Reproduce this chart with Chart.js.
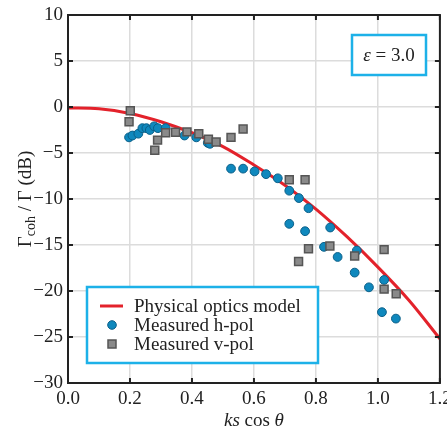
<!DOCTYPE html>
<html>
<head>
<meta charset="utf-8">
<script src="https://cdn.jsdelivr.net/npm/chart.js@4.4.0/dist/chart.umd.min.js"></script>
<style>
  html, body { margin: 0; padding: 0; background: #fff; }
  #wrap { width: 447px; height: 432px; }
</style>
</head>
<body>
<div id="wrap"><canvas id="chart" width="447" height="432"></canvas></div>
<script>
// --- data ---
const modelX = [0, 0.1, 0.2, 0.3, 0.4, 0.5, 0.6, 0.7, 0.8, 0.9, 1.0, 1.1, 1.2];
const modelY = [-0.1, -0.2, -0.7, -1.6, -2.8, -4.3, -6.3, -8.5, -11.1, -14.1, -17.4, -21.0, -25.2];

const hpolX = [0.197, 0.208, 0.227, 0.24, 0.253, 0.264, 0.278, 0.29, 0.315, 0.376, 0.414, 0.451, 0.458,
  0.526, 0.565, 0.602, 0.639, 0.677, 0.714, 0.745, 0.776, 0.714, 0.765, 0.846, 0.826, 0.87, 0.932,
  0.925, 0.971, 1.02, 1.013, 1.058];
const hpolY = [-3.3, -3.1, -2.9, -2.3, -2.3, -2.5, -2.1, -2.3, -2.3, -3.1, -3.3, -3.9, -4.0,
  -6.7, -6.7, -7.0, -7.3, -7.75, -9.1, -9.9, -11.0, -12.7, -13.5, -13.1, -15.2, -16.3, -15.6,
  -18.0, -19.6, -18.8, -22.3, -23.0];

const vpolX = [0.201, 0.197, 0.28, 0.289, 0.315, 0.347, 0.384, 0.422, 0.453, 0.478, 0.526, 0.565,
  0.714, 0.765, 0.776, 0.744, 0.845, 0.925, 1.02, 1.02, 1.059];
const vpolY = [-0.4, -1.6, -4.7, -3.6, -2.8, -2.75, -2.7, -2.9, -3.5, -3.8, -3.3, -2.4,
  -7.9, -7.9, -15.4, -16.8, -15.1, -16.2, -15.5, -19.8, -20.3];

const seriesNames = ['Physical optics model', 'Measured h-pol', 'Measured v-pol'];
const xTicks = [0, 0.2, 0.4, 0.6, 0.8, 1.0, 1.2];
const yTicks = [-30, -25, -20, -15, -10, -5, 0, 5, 10];

const RED = '#e3222b';
const BLUE = '#0f88bd';
const BLUE_EDGE = '#0b5f88';
const GREY = '#8a8a8a';
const GREY_EDGE = '#555555';
const CYAN = '#1db1e8';
const SERIF = '"Liberation Serif", "DejaVu Serif", serif';

const pts = (xs, ys) => xs.map((x, i) => ({ x: x, y: ys[i] }));

// frame, inward ticks, legend box, annotation and axis titles
const decor = {
  id: 'decor',
  afterDatasetsDraw(chart) {
    const ctx = chart.ctx;
    const a = chart.chartArea;
    const xs = chart.scales.x, ys = chart.scales.y;
    ctx.save();

    // frame
    ctx.strokeStyle = '#222';
    ctx.lineWidth = 2;
    ctx.strokeRect(a.left, a.top, a.right - a.left, a.bottom - a.top);

    // inward ticks
    ctx.lineWidth = 2;
    ctx.beginPath();
    xTicks.forEach(v => {
      const p = xs.getPixelForValue(v);
      ctx.moveTo(p, a.bottom); ctx.lineTo(p, a.bottom - 5);
      ctx.moveTo(p, a.top); ctx.lineTo(p, a.top + 5);
    });
    yTicks.forEach(v => {
      const p = ys.getPixelForValue(v);
      ctx.moveTo(a.left, p); ctx.lineTo(a.left + 5, p);
      ctx.moveTo(a.right, p); ctx.lineTo(a.right - 5, p);
    });
    ctx.stroke();

    // legend
    const lx = 87, ly = 287, lw = 231, lh = 76;
    ctx.fillStyle = '#fff';
    ctx.fillRect(lx, ly, lw, lh);
    ctx.strokeStyle = CYAN;
    ctx.lineWidth = 2.5;
    ctx.strokeRect(lx, ly, lw, lh);

    ctx.font = '19px ' + SERIF;
    ctx.fillStyle = '#222';
    ctx.textBaseline = 'middle';
    ctx.textAlign = 'left';
    const rows = [306, 325, 344];

    ctx.strokeStyle = RED; ctx.lineWidth = 3;
    ctx.beginPath(); ctx.moveTo(100, rows[0]); ctx.lineTo(123, rows[0]); ctx.stroke();

    ctx.fillStyle = BLUE; ctx.strokeStyle = BLUE_EDGE; ctx.lineWidth = 1;
    ctx.beginPath(); ctx.arc(112, rows[1], 4.3, 0, Math.PI * 2); ctx.fill(); ctx.stroke();

    ctx.fillStyle = GREY; ctx.strokeStyle = GREY_EDGE; ctx.lineWidth = 1.5;
    ctx.fillRect(108, rows[2] - 4, 8, 8); ctx.strokeRect(108, rows[2] - 4, 8, 8);

    ctx.fillStyle = '#222';
    seriesNames.forEach((n, i) => ctx.fillText(n, 134, rows[i] + 1));

    // epsilon box
    const ex = 352, ey = 35, ew = 74, eh = 40;
    ctx.fillStyle = '#fff';
    ctx.fillRect(ex, ey, ew, eh);
    ctx.strokeStyle = CYAN; ctx.lineWidth = 2.5;
    ctx.strokeRect(ex, ey, ew, eh);
    ctx.fillStyle = '#222';
    ctx.font = 'italic 19px ' + SERIF;
    const eps = '\u03b5';
    const w1 = ctx.measureText(eps).width;
    ctx.font = '19px ' + SERIF;
    const rest = ' = 3.0';
    const w2 = ctx.measureText(rest).width;
    let sx = ex + ew / 2 - (w1 + w2) / 2;
    ctx.font = 'italic 19px ' + SERIF;
    ctx.fillText(eps, sx, ey + eh / 2 + 1);
    ctx.font = '19px ' + SERIF;
    ctx.fillText(rest, sx + w1, ey + eh / 2 + 1);

    // x title: ks cos θ
    const parts = [['ks', 'italic 19px '], [' cos ', '19px '], ['\u03b8', 'italic 19px ']];
    let tot = 0;
    parts.forEach(p => { ctx.font = p[1] + SERIF; tot += ctx.measureText(p[0]).width; });
    let cx = (a.left + a.right) / 2 - tot / 2;
    parts.forEach(p => {
      ctx.font = p[1] + SERIF;
      ctx.fillText(p[0], cx, 421);
      cx += ctx.measureText(p[0]).width;
    });

    // y title: Γcoh / Γ (dB)
    ctx.translate(26, (a.top + a.bottom) / 2);
    ctx.rotate(-Math.PI / 2);
    const yp = [['\u0393', '19px ', 0], ['coh', '14px ', 5], [' / \u0393 (dB)', '19px ', 0]];
    tot = 0;
    yp.forEach(p => { ctx.font = p[1] + SERIF; tot += ctx.measureText(p[0]).width; });
    cx = -tot / 2;
    yp.forEach(p => {
      ctx.font = p[1] + SERIF;
      ctx.fillText(p[0], cx, p[2]);
      cx += ctx.measureText(p[0]).width;
    });

    ctx.restore();
  }
};

new Chart(document.getElementById('chart'), {
  type: 'scatter',
  data: {
    datasets: [
      {
        label: seriesNames[0],
        type: 'line',
        data: pts(modelX, modelY),
        borderColor: RED,
        borderWidth: 3,
        pointRadius: 0,
        cubicInterpolationMode: 'monotone',
        fill: false,
        order: 3
      },
      {
        label: seriesNames[1],
        data: pts(hpolX, hpolY),
        backgroundColor: BLUE,
        borderColor: BLUE_EDGE,
        borderWidth: 1,
        pointRadius: 4.4,
        order: 2
      },
      {
        label: seriesNames[2],
        data: pts(vpolX, vpolY),
        pointStyle: 'rect',
        backgroundColor: GREY,
        borderColor: GREY_EDGE,
        borderWidth: 1.5,
        pointRadius: 5.6,
        order: 1
      }
    ]
  },
  options: {
    responsive: false,
    animation: false,
    events: [],
    layout: { padding: { top: 15, right: 1, left: 0, bottom: 0 } },
    plugins: { legend: { display: false }, tooltip: { enabled: false } },
    scales: {
      x: {
        type: 'linear',
        min: 0, max: 1.2,
        afterBuildTicks: s => { s.ticks = xTicks.map(v => ({ value: v })); },
        afterFit: s => { s.height = 49; s.paddingLeft = 0; s.paddingRight = 0; },
        border: { display: false },
        grid: { color: '#dcdcdc', lineWidth: 1.5, drawTicks: false },
        ticks: {
          padding: 5,
          color: '#222',
          font: { family: SERIF, size: 19 },
          callback: v => v.toFixed(1)
        }
      },
      y: {
        type: 'linear',
        min: -30, max: 10,
        afterBuildTicks: s => { s.ticks = yTicks.map(v => ({ value: v })); },
        afterFit: s => { s.width = 68; s.paddingTop = 0; s.paddingBottom = 0; },
        border: { display: false },
        grid: { color: '#dcdcdc', lineWidth: 1.5, drawTicks: false },
        ticks: {
          padding: 5,
          color: '#222',
          font: { family: SERIF, size: 19 },
          callback: v => String(v).replace('-', '\u2212')
        }
      }
    }
  },
  plugins: [decor]
});
</script>
</body>
</html>
